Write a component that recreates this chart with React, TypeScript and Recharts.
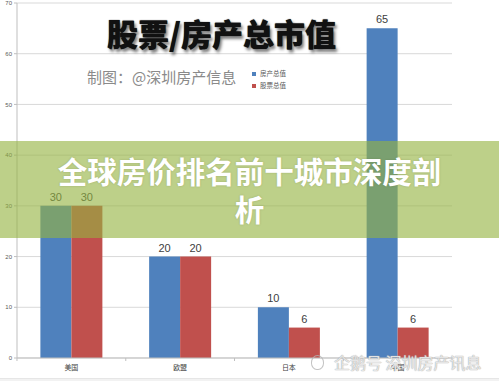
import React from "react";
import { BarChart, Bar, XAxis, YAxis, CartesianGrid, Legend, LabelList } from "recharts";

const categories = ["美国", "欧盟", "日本", "中国"];
const housingValues = [30, 20, 10, 65];
const stockValues = [30, 20, 6, 6];
const yTicks = [0, 10, 20, 30, 40, 50, 60, 70];
const seriesNames = ["房产总值", "股票总值"];

const data = categories.map((c, i) => ({
  name: c,
  housing: housingValues[i],
  stock: stockValues[i],
}));

const FONT = "'Liberation Sans', 'Noto Sans CJK SC', sans-serif";
const CJK = "'Noto Sans CJK SC', sans-serif";

const XTick = (props: any) => {
  const { x, y, payload, index } = props;
  const half = 54.4;
  return (
    <g>
      {index === 0 && <line x1={x - half} y1={y} x2={x - half} y2={y + 3} stroke="#bfbfbf" />}
      <line x1={x + half} y1={y} x2={x + half} y2={y + 3} stroke="#bfbfbf" />
      <text x={x} y={y + 12} textAnchor="middle" fontSize={7} fill="#404040" fontFamily={CJK}>
        {payload.value}
      </text>
    </g>
  );
};

export default function App() {
  return (
    <div style={{ position: "absolute", left: 0, top: 0, width: 499, height: 381, background: "#fff", overflow: "hidden" }}>
      <BarChart
        width={499}
        height={381}
        data={data}
        margin={{ top: 3, right: 47, left: 0, bottom: 0 }}
        barCategoryGap="21.5%"
        barGap={0}
      >
        <CartesianGrid vertical={false} stroke="#d9d9d9" />
        <XAxis
          dataKey="name"
          axisLine={{ stroke: "#bfbfbf" }}
          tickLine={false}
          tickSize={0}
          tickMargin={0}
          tick={<XTick />}
          height={23}
          interval={0}
        />
        <YAxis
          width={17}
          domain={[0, 70]}
          ticks={yTicks}
          tickSize={3}
          tickMargin={2}
          axisLine={{ stroke: "#bfbfbf" }}
          tickLine={{ stroke: "#bfbfbf" }}
          tick={{ fontSize: 6, fill: "#595959", fontFamily: FONT }}
          interval={0}
        />
        <Legend
          layout="vertical"
          align="center"
          verticalAlign="middle"
          iconType="square"
          iconSize={4}
          wrapperStyle={{ position: "absolute", left: 252, top: 67, width: 60, fontSize: 6.5, fontFamily: CJK, lineHeight: "12px" }}
          formatter={(v: string) => <span style={{ color: "#595959" }}>{v}</span>}
        />
        <Bar dataKey="housing" name={seriesNames[0]} fill="#4f81bd" isAnimationActive={false}>
          <LabelList dataKey="housing" position="top" offset={5} fontSize={11} fill="#404040" fontFamily={FONT} />
        </Bar>
        <Bar dataKey="stock" name={seriesNames[1]} fill="#c0504d" isAnimationActive={false}>
          <LabelList dataKey="stock" position="top" offset={5} fontSize={11} fill="#404040" fontFamily={FONT} />
        </Bar>
      </BarChart>

      <div
        style={{
          position: "absolute",
          left: 107,
          top: 13,
          fontFamily: CJK,
          fontWeight: 900,
          fontSize: 31,
          lineHeight: "40px",
          color: "#111",
          textShadow: "2px 3px 3px rgba(0,0,0,0.5), 0 0 1px #000",
          whiteSpace: "nowrap",
        }}
      >
        股票/房产总市值
      </div>
      <div
        style={{
          position: "absolute",
          left: 87,
          top: 66,
          fontFamily: CJK,
          fontSize: 15,
          lineHeight: "22px",
          color: "#8a8a8a",
          whiteSpace: "nowrap",
        }}
      >
        制图：@深圳房产信息
      </div>

      <div
        style={{
          position: "absolute",
          left: 0,
          top: 141,
          width: 499,
          height: 97,
          background: "rgba(148,179,64,0.62)",
        }}
      />
      <div
        style={{
          position: "absolute",
          left: 0,
          top: 151,
          width: 499,
          textAlign: "center",
          fontFamily: CJK,
          fontWeight: 700,
          fontSize: 29.5,
          lineHeight: "38px",
          color: "#fff",
          textShadow: "0 0 2px rgba(80,90,40,0.3)",
        }}
      >
        <span style={{ display: "block", whiteSpace: "nowrap" }}>全球房价排名前十城市深度剖</span>
        <span style={{ display: "block" }}>析</span>
      </div>

      <div
        style={{
          position: "absolute",
          left: 311,
          top: 351,
          display: "flex",
          alignItems: "center",
          fontFamily: CJK,
          fontSize: 16,
          lineHeight: "22px",
          color: "rgba(255,255,255,0.7)",
          textShadow: "0 0 1px #aaa, 0 0 1px #aaa",
          whiteSpace: "nowrap",
        }}
      >
        <span
          style={{
            display: "inline-block",
            width: 11,
            height: 13,
            borderRadius: "50% 50% 45% 45%",
            border: "1.5px solid rgba(180,180,180,0.8)",
            marginRight: 10,
          }}
        />
        企鹅号 深圳房产讯息
      </div>

      <div style={{ position: "absolute", left: 0, top: 378, width: 499, height: 3, background: "#f2f2f2", borderTop: "1px solid #e6e6e6" }} />
    </div>
  );
}
